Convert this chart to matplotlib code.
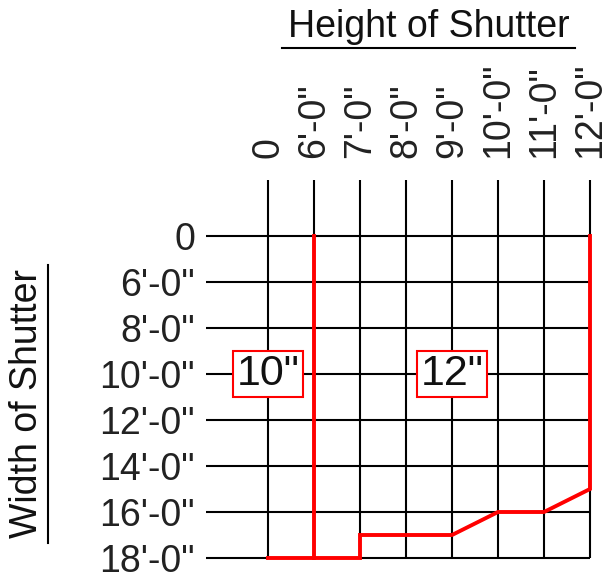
import matplotlib
matplotlib.use('Agg')
import matplotlib.pyplot as plt
from matplotlib.lines import Line2D

plt.rcParams['font.family'] = ['Liberation Sans', 'DejaVu Sans']

# chart data
heights = ['0', "6'-0\"", "7'-0\"", "8'-0\"", "9'-0\"", "10'-0\"", "11'-0\"", "12'-0\""]
widths = ['0', "6'-0\"", "8'-0\"", "10'-0\"", "12'-0\"", "14'-0\"", "16'-0\"", "18'-0\""]

# boundary of the 12" zone (x = height index, y = width index)
limit_x = [0, 2, 2, 4, 5, 6, 7, 7]
limit_y = [7, 7, 6.5, 6.5, 6, 6, 5.5, 0]
# split between 10" and 12" zones
split_x = [1, 1]
split_y = [0, 7]

zone_labels = ['10"', '12"']
zone_x = [0, 4]
zone_y = [3, 3]

W, H = 605, 574
fig = plt.figure(figsize=(W / 100, H / 100), dpi=100)

# axes placed in pixels: grid cells are 46 px, first column at x=268, first row at y=236
left, right, top, bottom = 206, 595, 180, 562
ax = fig.add_axes([left / W, 1 - bottom / H, (right - left) / W, (bottom - top) / H])
cell = 46
ax.set_xlim((left - 268) / cell, (right - 268) / cell)
ax.set_ylim((bottom - 236) / cell, (top - 236) / cell)
x0, y0 = ax.get_xlim()[0], ax.get_ylim()[1]

n = len(heights)
ax.vlines(range(n), y0, n - 1, color='black', lw=1.5, clip_on=False)
ax.hlines(range(len(widths)), x0, n - 1, color='black', lw=1.5, clip_on=False)

ax.plot(limit_x, limit_y, color='#ff0000', lw=2.8, solid_joinstyle='miter', clip_on=False, zorder=3)
ax.plot(split_x, split_y, color='#ff0000', lw=2.8, clip_on=False, zorder=3)

for lab, zx, zy in zip(zone_labels, zone_x, zone_y):
    ax.text(zx, zy, lab, fontsize=31, ha='center', va='center', color='#111111', zorder=4,
            bbox=dict(boxstyle='square,pad=0.08', fc='white', ec='#ff0000', lw=1.5))

ax.xaxis.tick_top()
ax.set_xticks(range(n))
ax.set_xticklabels(heights, rotation=90, fontsize=27, color='#222222')
ax.set_yticks(range(len(widths)))
ax.set_yticklabels(widths, fontsize=27, color='#222222')
ax.tick_params(axis='x', length=0, pad=16)
ax.tick_params(axis='y', length=0, pad=8)
for s in ax.spines.values():
    s.set_visible(False)

# underlined axis titles
fig.text(429 / W, 1 - 27 / H, 'Height of Shutter', fontsize=27, ha='center', va='center', color='#111111')
fig.add_artist(Line2D([282 / W, 575 / W], [1 - 48 / H, 1 - 48 / H], color='black', lw=1.5))
fig.text(27 / W, 1 - 404 / H, 'Width of Shutter', fontsize=27, rotation=90, ha='center', va='center', color='#111111')
fig.add_artist(Line2D([48 / W, 48 / W], [1 - 265 / H, 1 - 543 / H], color='black', lw=1.5))

fig.savefig('out.png', dpi=100)
